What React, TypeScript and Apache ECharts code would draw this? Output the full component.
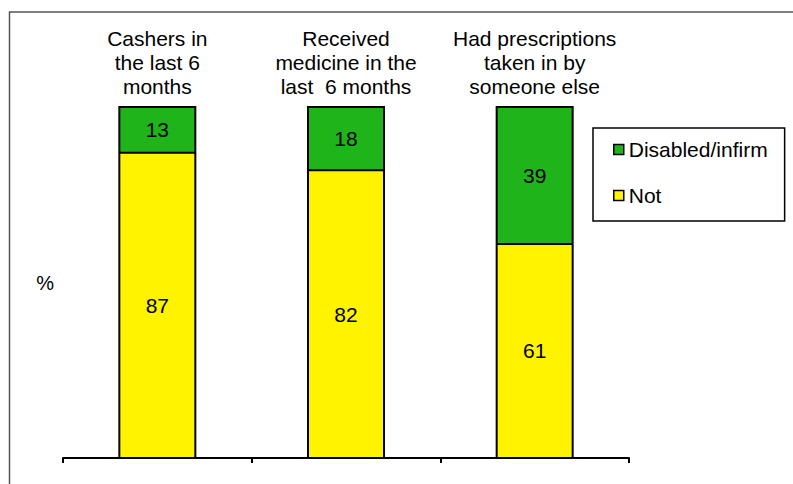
import React, { useEffect, useRef } from "react";
import * as echarts from "echarts";

// Survey groups shown along the top of each column
const categories: string[] = [
  "Cashers in\nthe last 6\nmonths",
  "Received\nmedicine in the\nlast  6 months",
  "Had prescriptions\ntaken in by\nsomeone else",
];

// Share (%) of each group
const notValues: number[] = [87, 82, 61];
const disabledValues: number[] = [13, 18, 39];

const seriesNames: string[] = ["Disabled/infirm", "Not"];

const FONT = "Liberation Sans, Arial, sans-serif";
const GREEN = "#20B41B";
const YELLOW = "#FFF300";
const BAR_WIDTH = 76;

export default function App() {
  const ref = useRef<HTMLDivElement>(null);

  useEffect(() => {
    if (!ref.current) return;
    const chart = echarts.init(ref.current, undefined, { renderer: "svg" });

    const labelStyle = {
      show: true,
      position: "inside" as const,
      color: "#000",
      fontFamily: FONT,
      fontSize: 21,
    };

    // One outline per column: outer box plus the line between the two segments
    const outlineData = categories.map((_, i) => [
      i,
      notValues[i],
      notValues[i] + disabledValues[i],
    ]);

    chart.setOption({
      animation: false,
      backgroundColor: "#fff",
      textStyle: { fontFamily: FONT },
      graphic: [
        {
          type: "rect",
          shape: { x: 9.5, y: 12, width: 900, height: 600 },
          style: { fill: "none", stroke: "#555", lineWidth: 1.5 },
          silent: true,
          z: -1,
        },
      ],
      grid: { left: 63, right: 164, top: 107, bottom: 26, containLabel: false },
      legend: {
        orient: "vertical",
        left: 593,
        top: 128,
        data: seriesNames,
        icon: "rect",
        itemWidth: 10,
        itemHeight: 10,
        itemGap: 25,
        padding: [11, 17, 15, 20],
        borderColor: "#000",
        borderWidth: 1.5,
        backgroundColor: "#fff",
        itemStyle: { borderColor: "#000", borderWidth: 1.5 },
        textStyle: { color: "#000", fontFamily: FONT, fontSize: 21 },
      },
      xAxis: [
        {
          type: "category",
          position: "bottom",
          data: categories,
          boundaryGap: true,
          axisLine: { show: true, lineStyle: { color: "#000", width: 2 } },
          axisTick: { show: true, length: 5, lineStyle: { color: "#000", width: 2 } },
          axisLabel: { show: false },
          splitLine: { show: false },
        },
        {
          type: "category",
          position: "top",
          data: categories,
          boundaryGap: true,
          axisLine: { show: false },
          axisTick: { show: false },
          splitLine: { show: false },
          axisLabel: {
            show: true,
            interval: 0,
            margin: 9,
            color: "#000",
            fontFamily: FONT,
            fontSize: 21,
            lineHeight: 24,
            align: "center",
          },
        },
      ],
      yAxis: {
        type: "value",
        min: 0,
        max: 100,
        name: "%",
        nameLocation: "middle",
        nameRotate: 0,
        nameGap: 9,
        nameTextStyle: { color: "#000", fontFamily: FONT, fontSize: 20 },
        axisLine: { show: false },
        axisTick: { show: false },
        axisLabel: { show: false },
        splitLine: { show: false },
      },
      series: [
        {
          name: "Not",
          type: "bar",
          stack: "share",
          xAxisIndex: 0,
          barWidth: BAR_WIDTH,
          data: notValues,
          itemStyle: { color: YELLOW },
          label: labelStyle,
        },
        {
          name: "Disabled/infirm",
          type: "bar",
          stack: "share",
          xAxisIndex: 0,
          barWidth: BAR_WIDTH,
          data: disabledValues,
          itemStyle: { color: GREEN },
          label: labelStyle,
        },
        {
          name: "outline",
          type: "custom",
          xAxisIndex: 0,
          z: 5,
          silent: true,
          encode: { x: 0, y: [1, 2] },
          data: outlineData,
          renderItem: (_params: any, api: any) => {
            const idx = api.value(0);
            const base = api.coord([idx, 0]);
            const mid = api.coord([idx, api.value(1)]);
            const top = api.coord([idx, api.value(2)]);
            const x = base[0] - BAR_WIDTH / 2;
            const stroke = { fill: "none", stroke: "#000", lineWidth: 2 };
            return {
              type: "group",
              children: [
                {
                  type: "rect",
                  shape: { x, y: top[1], width: BAR_WIDTH, height: base[1] - top[1] },
                  style: stroke,
                },
                {
                  type: "line",
                  shape: { x1: x, y1: mid[1], x2: x + BAR_WIDTH, y2: mid[1] },
                  style: { stroke: "#000", lineWidth: 2 },
                },
              ],
            };
          },
        },
      ],
    });

    return () => chart.dispose();
  }, []);

  return (
    <div
      ref={ref}
      style={{ position: "fixed", left: 0, top: 0, width: 793, height: 484 }}
    />
  );
}
